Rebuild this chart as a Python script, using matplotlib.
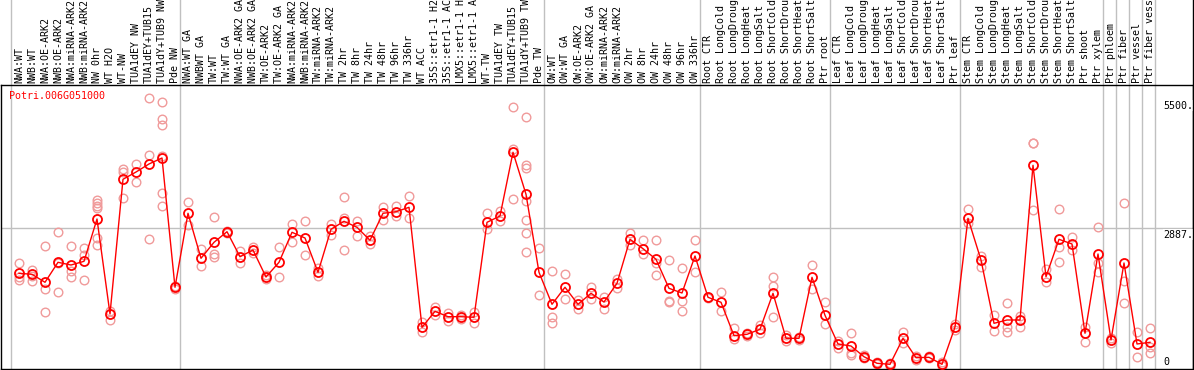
import matplotlib
matplotlib.use("Agg")
import matplotlib.pyplot as plt
from matplotlib.lines import Line2D
import matplotlib.transforms as mtransforms

title = "Potri.006G051000"

labels = [
    "NWA:WT", "NWB:WT", "NWA:OE-ARK2", "NWB:OE-ARK2", "NWA:miRNA-ARK2", "NWB:miRNA-ARK2",
    "NW 0hr", "WT H2O", "WT-NW", "TUA1dEY NW", "TUA1dEY+TUB15", "TUA1dY+TUB9 NW", "Pde NW",
    "NWA:WT GA", "NWBWT GA", "TW:WT", "TW:WT GA", "NWA:OE-ARK2 GA", "NWB:OE-ARK2 GA",
    "TW:OE-ARK2", "TW:OE-ARK2 GA", "NWA:miRNA-ARK2", "NWB:miRNA-ARK2", "TW:miRNA-ARK2",
    "TW:miRNA-ARK2", "TW 2hr", "TW 8hr", "TW 24hr", "TW 48hr", "TW 96hr", "TW 336hr",
    "WT ACC", "35S::etr1-1 H2", "35S::etr1-1 AC", "LMX5::etr1-1 H", "LMX5::etr1-1 A",
    "WT-TW", "TUA1dEY TW", "TUA1dEY+TUB15", "TUA1dY+TUB9 TW", "Pde TW",
    "OW:WT", "OW:WT GA", "OW:OE-ARK2", "OW:OE-ARK2 GA", "OW:miRNA-ARK2", "OW:miRNA-ARK2",
    "OW 2hr", "OW 8hr", "OW 24hr", "OW 48hr", "OW 96hr", "OW 336hr",
    "Root CTR", "Root LongCold", "Root LongDroug", "Root LongHeat", "Root LongSalt",
    "Root ShortCold", "Root ShortDrou", "Root ShortHeat", "Root ShortSalt", "Ptr root",
    "Leaf CTR", "Leaf LongCold", "Leaf LongDroug", "Leaf LongHeat", "Leaf LongSalt",
    "Leaf ShortCold", "Leaf ShortDrou", "Leaf ShortHeat", "Leaf ShortSalt", "Ptr leaf",
    "Stem CTR", "Stem LongCold", "Stem LongDroug", "Stem LongHeat", "Stem LongSalt",
    "Stem ShortCold", "Stem ShortDrou", "Stem ShortHeat", "Stem ShortSalt", "Ptr shoot",
    "Ptr xylem", "Ptr phloem", "Ptr fiber", "Ptr vessel", "Ptr fiber vess",
]

means = [
    1959, 1939, 1777, 2182, 2127, 2202, 3059, 1135, 3864, 4011, 4174, 4295, 1676,
    3175, 2263, 2587, 2802, 2295, 2431, 1884, 2182, 2790, 2674, 1979, 2851, 3013,
    2891, 2628, 3175, 3207, 3296, 865, 1189, 1080, 1080, 1068, 2992, 3120, 4411,
    3560, 1979,
    1331, 1676, 1331, 1554, 1378, 1757, 2648, 2458, 2243, 1655, 1560, 2310,
    1473, 1372, 695, 723, 825, 1554, 642, 642, 1878, 1108,
    527, 486, 269, 136, 115, 642, 249, 257, 115, 871,
    3073, 2229, 946, 1013, 1013, 4147, 1890, 2648, 2553, 744,
    2350, 608, 2168, 527, 561,
]

replicates = [
    [2168, 1878, 1823], [2026, 1904, 1803], [2512, 1647, 1169], [2790, 1580, 2176],
    [2512, 2006, 1884], [2472, 2330, 1817], [3444, 3383, 3329, 3276, 2668, 2526],
    [1195, 1013], [4078, 4018, 3479], [4174, 3815], [5511, 4356, 2648],
    [5424, 5079, 4970, 4342, 3580, 3317], [1702, 1641],
    [3398, 2938], [2445, 2101], [3094, 2350, 2295], [2822, 2782], [2411, 2162],
    [2498, 2364], [1925, 1844], [2486, 1884], [2952, 2599], [3019, 2330],
    [2060, 1911], [2952, 2735], [3505, 3073, 2425], [3019, 2715], [2721, 2547],
    [3308, 3045], [3323, 3114], [3519, 3080], [979, 776], [1270, 1114],
    [1149, 999], [1108, 1027], [1181, 958], [3175, 2857], [3227, 3025],
    [5322, 4477, 3464], [5120, 4153, 4099, 3430, 3039, 2770, 2385], [2466, 1520],
    [2000, 1074, 946], [1945, 1432], [1418, 1230], [1682, 1438], [1485, 1242],
    [1850, 1661], [2770, 2526], [2634, 2350], [2628, 2162, 1919], [2222, 1398, 1372],
    [2060, 1392, 1189], [2628, 1985],
    [1485, 1459], [1580, 1189], [845, 622], [750, 689], [912, 756], [1884, 1696, 1080],
    [709, 594], [669, 608], [2127, 1635], [1372, 926],
    [594, 440], [744, 351, 304], [304, 243], [162, 122], [142, 91], [770, 553],
    [290, 203], [284, 233], [152, 81], [926, 804],
    [3262, 2972], [2316, 2081], [1114, 784], [1351, 877, 764], [1094, 865],
    [4605, 4605, 3242], [2040, 1777], [3256, 2498, 2194], [2695, 2431], [877, 573],
    [2891, 2174, 1992], [541, 648], [3377, 1803, 1351], [764, 263], [845, 472, 338],
]

# index of the last sample in each group (group separators)
group_ends = [-1, 12, 40, 52, 62, 72, 83, 84, 85, 86, 87]
ytick_values = [5500, 2887, 0]
ytick_labels = ["5500.", "2887.", "0"]

W, H = 1194, 370
fig = plt.figure(figsize=(W / 100, H / 100), dpi=100)
ax_left_px, ax_right_px = 1, 1193
ax_top_px, ax_bot_px = 85, 369
ax = fig.add_axes([ax_left_px / W, (H - ax_bot_px) / H,
                   (ax_right_px - ax_left_px) / W, (ax_bot_px - ax_top_px) / H])

x0_px, step_px = 19, 13
ax.set_xlim((ax_left_px - x0_px) / step_px, (ax_right_px - x0_px) / step_px)
units_per_px = 20.26
ax.set_ylim((370 - ax_bot_px) * units_per_px, (370 - ax_top_px) * units_per_px)

mono = "DejaVu Sans Mono"
fs = 7.2
gray = "#c0c0c0"
red = "#ff0000"
pink = "#f09a9a"

for sp in ax.spines.values():
    sp.set_linewidth(1.0)
    sp.set_color("black")
ax.set_xticks([])
ax.set_yticks([])

# horizontal gridline at middle tick
ax.axhline(ytick_values[1], color=gray, lw=1.0, zorder=0)

# vertical group separators extending through label area
ext = (H - 0) / (ax_bot_px - ax_top_px)
for g in group_ends:
    ax.axvline(g + 0.4, ymin=0, ymax=ext, color=gray, lw=1.0, zorder=0, clip_on=False)

# right border extends up
fig.add_artist(Line2D([ax_right_px / W, ax_right_px / W], [0, 1], color="black", lw=1.0))

# replicates
for i, reps in enumerate(replicates):
    ax.plot([i] * len(reps), reps, linestyle="none", marker="o", markersize=6.2,
            markerfacecolor="none", markeredgecolor=pink, markeredgewidth=1.0, zorder=2)

# mean line
xs = list(range(len(means)))
ax.plot(xs, means, color=red, lw=1.0, marker="o", markersize=6.5,
        markerfacecolor="none", markeredgecolor=red, markeredgewidth=1.3, zorder=3)

# sample labels
for i, lab in enumerate(labels):
    ax.annotate(lab, xy=(i, 1), xycoords=("data", "axes fraction"),
                xytext=(0, 2), textcoords="offset pixels", rotation=90,
                ha="center", va="bottom", fontsize=fs, family=mono,
                color="black", annotation_clip=False)

# title
ax.annotate(title, xy=(0, 1), xycoords="axes fraction", xytext=(8, -6),
            textcoords="offset pixels", ha="left", va="top", fontsize=fs,
            family=mono, color=red)

# y tick labels inside right
trans = mtransforms.blended_transform_factory(ax.transAxes, ax.transData)
xlab = (1163 - ax_left_px) / (ax_right_px - ax_left_px)
for v, t in zip(ytick_values, ytick_labels):
    va = "bottom" if v == 0 else "top"
    yoff = 3 if v == 0 else -2
    ax.annotate(t, xy=(xlab, v), xycoords=trans, xytext=(0, yoff),
                textcoords="offset pixels", ha="left", va=va, fontsize=fs,
                family=mono, color="black", zorder=5,
                bbox=dict(boxstyle="square,pad=0.05", fc="white", ec="none"))

fig.savefig("out.png", dpi=100)
